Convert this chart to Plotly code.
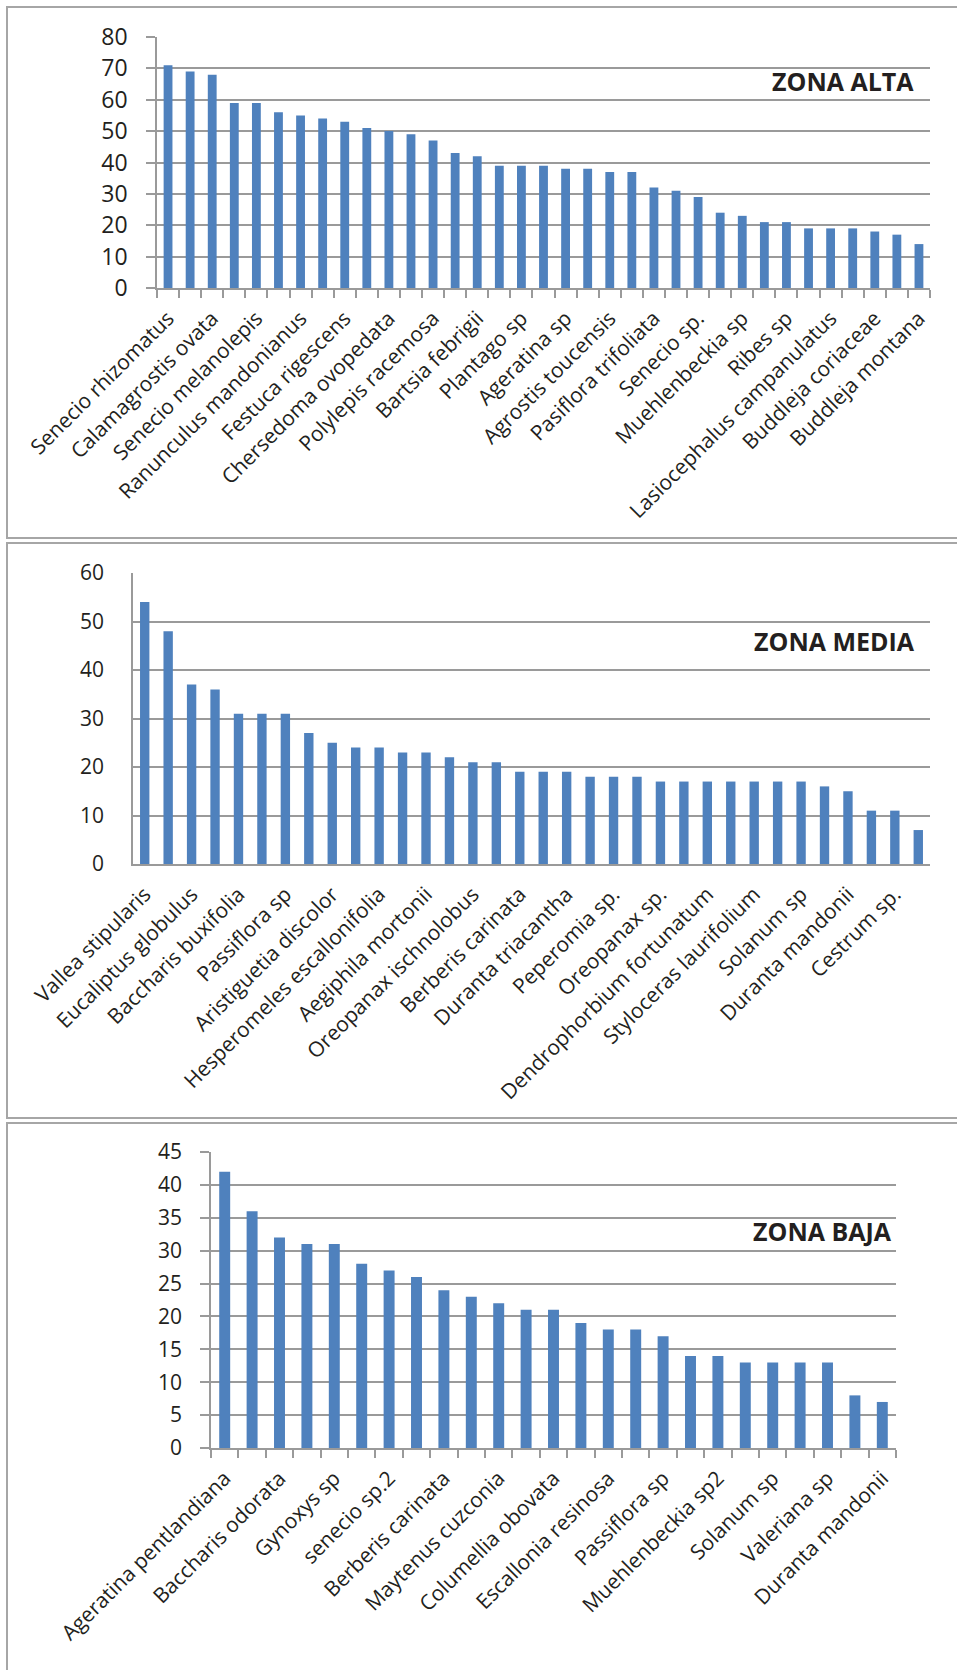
import plotly.graph_objects as go

# ---- Data -----------------------------------------------------------------
alta_values = [71, 69, 68, 59, 59, 56, 55, 54, 53, 51, 50, 49, 47, 43, 42,
               39, 39, 39, 38, 38, 37, 37, 32, 31, 29, 24, 23, 21, 21, 19,
               19, 19, 18, 17, 14]
alta_labels = ["Senecio rhizomatus", "Calamagrostis ovata", "Senecio melanolepis",
               "Ranunculus mandonianus", "Festuca rigescens", "Chersedoma ovopedata",
               "Polylepis racemosa", "Bartsia febrigii", "Plantago sp", "Ageratina sp",
               "Agrostis toucensis", "Pasiflora trifoliata", "Senecio sp.",
               "Muehlenbeckia sp", "Ribes sp", "Lasiocephalus campanulatus",
               "Buddleja coriaceae", "Buddleja montana"]

media_values = [54, 48, 37, 36, 31, 31, 31, 27, 25, 24, 24, 23, 23, 22, 21,
                21, 19, 19, 19, 18, 18, 18, 17, 17, 17, 17, 17, 17, 17, 16,
                15, 11, 11, 7]
media_labels = ["Vallea stipularis", "Eucaliptus globulus", "Baccharis buxifolia",
                "Passiflora sp", "Aristiguetia discolor", "Hesperomeles escallonifolia",
                "Aegiphila mortonii", "Oreopanax ischnolobus", "Berberis carinata",
                "Duranta triacantha", "Peperomia sp.", "Oreopanax sp.",
                "Dendrophorbium fortunatum", "Styloceras laurifolium", "Solanum sp",
                "Duranta mandonii", "Cestrum sp."]

baja_values = [42, 36, 32, 31, 31, 28, 27, 26, 24, 23, 22, 21, 21, 19, 18,
               18, 17, 14, 14, 13, 13, 13, 13, 8, 7]
baja_labels = ["Ageratina pentlandiana", "Baccharis odorata", "Gynoxys sp",
               "senecio sp.2", "Berberis carinata", "Maytenus cuzconia",
               "Columellia obovata", "Escallonia resinosa", "Passiflora sp",
               "Muehlenbeckia sp2", "Solanum sp", "Valeriana sp", "Duranta mandonii"]

zones = ["ZONA ALTA", "ZONA MEDIA", "ZONA BAJA"]

# ---- Styling ---------------------------------------------------------------
W, H = 957, 1670
BAR = "#4F81BD"
GRID = "#9a9a9a"
BORDER = "#a6a6a6"
TXT = "#231f20"
FONT = "Open Sans"


def fx(p):
    return p / W


def fy(p):
    return 1 - p / H


panels = [
    dict(v=alta_values, lab=alta_labels, x=(157, 930), y=(37, 288), ymax=80, dt=10,
         ticks=True, yfs=23, title=zones[0], tx=916, ty=81),
    dict(v=media_values, lab=media_labels, x=(133, 930), y=(573, 864), ymax=60, dt=10,
         ticks=False, yfs=21, title=zones[1], tx=917, ty=641),
    dict(v=baja_values, lab=baja_labels, x=(211, 896), y=(1152, 1448), ymax=45, dt=5,
         ticks=True, yfs=21, title=zones[2], tx=894, ty=1231),
]

fig = go.Figure()
layout = dict(
    width=W, height=H,
    margin=dict(l=0, r=0, t=0, b=0, autoexpand=False),
    paper_bgcolor="white", plot_bgcolor="white",
    showlegend=False, bargap=0.6,
    font=dict(family=FONT, color=TXT),
    annotations=[], shapes=[],
)

for i, p in enumerate(panels):
    n = len(p["v"])
    sfx = "" if i == 0 else str(i + 1)
    fig.add_trace(go.Bar(
        x=list(range(n)), y=p["v"], marker=dict(color=BAR, line=dict(width=0)),
        xaxis="x" + sfx, yaxis="y" + sfx, hoverinfo="x+y",
    ))
    xa = dict(
        domain=[fx(p["x"][0]), fx(p["x"][1])],
        range=[-0.5, n - 0.5],
        anchor="y" + sfx,
        automargin=False,
        tickmode="array",
        tickvals=list(range(0, n, 2)),
        ticktext=p["lab"],
        tickangle=-45,
        tickfont=dict(size=21, family=FONT, color=TXT),
        showgrid=False, zeroline=False,
        showline=True, linecolor=GRID, linewidth=1.5,
        ticks="outside", ticklen=8, tickcolor="rgba(0,0,0,0)",
        fixedrange=True,
    )
    if p["ticks"]:
        xa["minor"] = dict(tickmode="array", tickvals=[k - 0.5 for k in range(n + 1)],
                           ticks="outside", ticklen=8, tickcolor=GRID, tickwidth=1.5,
                           showgrid=False)
    ya = dict(
        domain=[fy(p["y"][1]), fy(p["y"][0])],
        range=[0, p["ymax"]],
        anchor="x" + sfx,
        automargin=False,
        tickmode="linear", tick0=0, dtick=p["dt"],
        tickfont=dict(size=p["yfs"], family=FONT, color=TXT),
        showgrid=True, gridcolor=GRID, gridwidth=1.5,
        zeroline=False,
        showline=True, linecolor=GRID, linewidth=1.5,
        ticks="outside" if p["ticks"] else "",
        ticklen=9, tickcolor=GRID, tickwidth=1.5,
        ticklabelstandoff=14 if p["ticks"] else 23,
        fixedrange=True,
    )
    layout["xaxis" + sfx] = xa
    layout["yaxis" + sfx] = ya
    layout["annotations"].append(dict(
        text="<b>" + p["title"] + "</b>", xref="paper", yref="paper",
        x=fx(p["tx"]), y=fy(p["ty"]), xanchor="right", yanchor="middle",
        showarrow=False, font=dict(size=25, family=FONT, color=TXT),
    ))

# panel frames
for top, bottom in [(7, 538), (543, 1118), (1123, 1700)]:
    layout["shapes"].append(dict(
        type="rect", xref="paper", yref="paper",
        x0=fx(7), x1=fx(975), y0=fy(bottom), y1=fy(top),
        line=dict(color=BORDER, width=2), fillcolor="rgba(0,0,0,0)", layer="below",
    ))

fig.update_layout(**layout)
fig.write_html("out.html")
